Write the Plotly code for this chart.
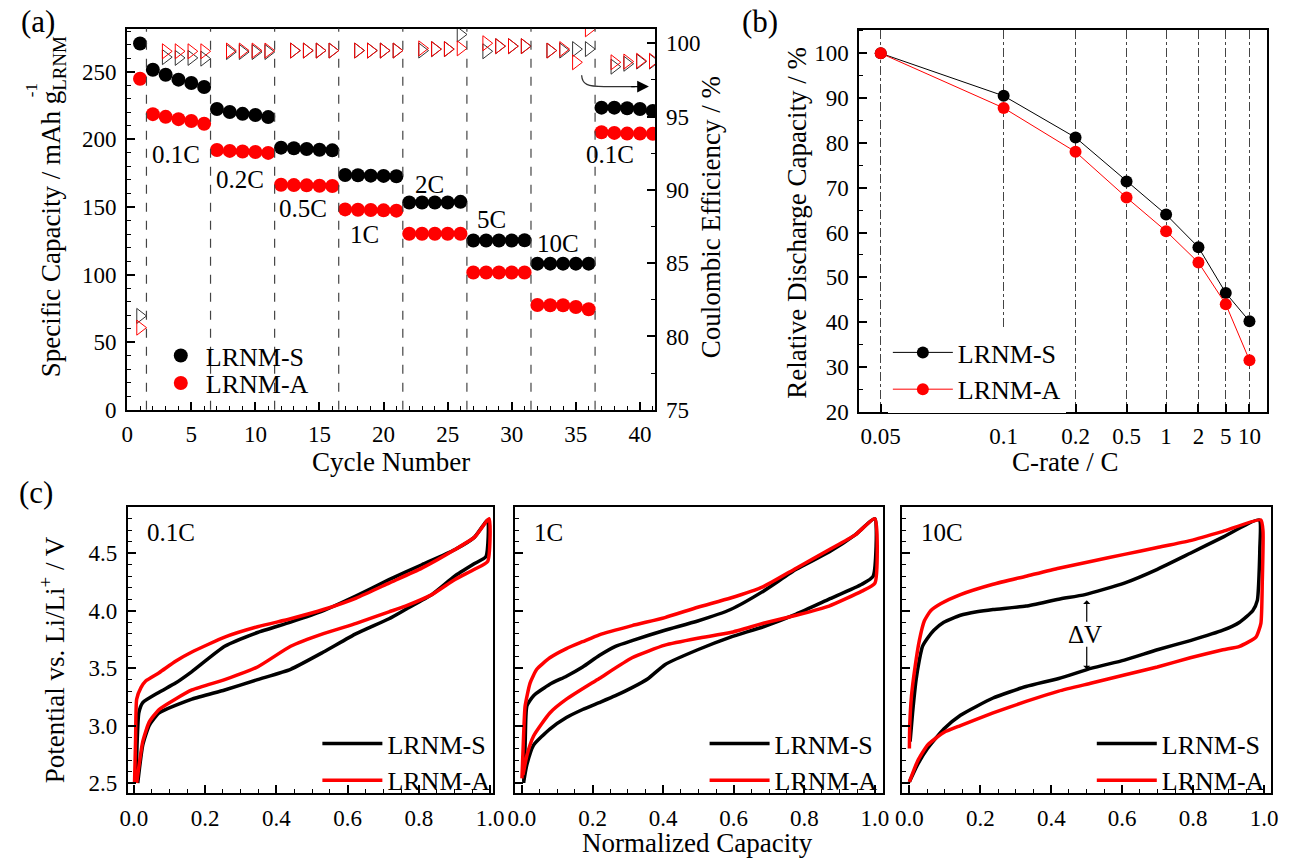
import plotly.graph_objects as go

FONT = "Liberation Serif, Times New Roman, serif"
W, H = 1290, 866
RED = "#ff0000"
BLK = "#000000"

# ---------------- (a) rate capability ----------------
cycles = list(range(1, 42))
cap_S = [271, 251.5, 247.8, 244.2, 241.7, 238.8,
         222.5, 220.3, 218.9, 218.0, 216.5,
         193.9, 193.4, 192.9, 192.4, 191.9,
         173.7, 173.5, 173.2, 173.0, 172.7,
         153.3, 153.3, 153.3, 153.3, 153.8,
         125.2, 125.2, 125.2, 125.2, 125.4,
         108.1, 108.1, 108.1, 108.1, 108.1,
         223.5, 223.5, 223.0, 222.5, 221.0]
cap_A = [244.9, 218.7, 216.7, 215.0, 213.6, 211.6,
         192.2, 191.5, 191.0, 190.7, 190.0,
         166.4, 166.2, 166.0, 165.7, 165.5,
         148.2, 148.0, 147.8, 147.5, 147.3,
         130.2, 130.2, 130.2, 130.2, 130.2,
         101.5, 101.5, 101.5, 101.5, 101.5,
         77.5, 77.3, 77.3, 76.0, 74.4,
         205.3, 204.8, 204.3, 204.3, 204.1]
ce_cycles = [1, 3, 4, 5, 6, 8, 9, 10, 11, 13, 14, 15, 16, 18, 19, 20, 21,
             23, 24, 25, 26, 28, 29, 30, 31, 33, 34, 35, 36, 38, 39, 40, 41]
ce_S = [81.4, 99.05, 99.0, 99.0, 98.95, 99.4, 99.4, 99.4, 99.4,
        99.5, 99.5, 99.5, 99.5, 99.5, 99.5, 99.5, 99.5,
        99.5, 99.6, 99.6, 100.6, 99.45, 99.8, 99.8, 99.8,
        99.5, 99.5, 99.6, 99.6, 98.4, 98.6, 98.75, 98.75]
ce_A = [80.6, 99.45, 99.45, 99.45, 99.45, 99.5, 99.5, 99.5, 99.5,
        99.5, 99.5, 99.5, 99.5, 99.5, 99.5, 99.5, 99.5,
        99.65, 99.6, 99.6, 99.65, 100.0, 99.8, 99.8, 99.8,
        99.5, 99.6, 98.7, 100.95, 98.7, 98.75, 98.8, 98.8]
rate_boundaries = [1.5, 6.5, 11.5, 16.5, 21.5, 26.5, 31.5, 36.5]
rate_labels = ["0.1C", "0.2C", "0.5C", "1C", "2C", "5C", "10C", "0.1C"]
rate_label_pos = [(3.8, 189), (8.8, 170), (13.7, 149), (18.5, 130),
                  (23.6, 167), (28.4, 141), (33.6, 123), (37.7, 189)]

# ---------------- (b) relative discharge capacity ----------------
c_rates = ["0.05", "0.1", "0.2", "0.5", "1", "2", "5", "10"]
rate_index = [1, 2, 3, 4, 5, 6, 7, 8]   # Origin axis: log scale on step index
rel_S = [100, 90.5, 81.2, 71.4, 64.0, 56.7, 46.5, 40.2]
rel_A = [100, 87.8, 78.0, 67.8, 60.3, 53.3, 44.0, 31.5]

# ---------------- (c) voltage profiles (charge then discharge) ----------------
q01_S = [0.006, 0.009, 0.014, 0.025, 0.071, 0.117, 0.163, 0.255, 0.347, 0.44, 0.532, 0.624, 0.716, 0.808, 0.9, 0.956, 0.993,
         0.988, 0.956, 0.9, 0.836, 0.762, 0.716, 0.624, 0.532, 0.44, 0.347, 0.255, 0.163, 0.071, 0.043, 0.025, 0.011]
v01_S = [2.50, 2.83, 3.11, 3.20, 3.29, 3.37, 3.47, 3.69, 3.81, 3.90, 4.00, 4.13, 4.27, 4.40, 4.53, 4.64, 4.79,
         4.47, 4.41, 4.30, 4.14, 4.01, 3.93, 3.80, 3.64, 3.49, 3.40, 3.31, 3.23, 3.11, 3.00, 2.83, 2.50]
q01_A = [0.002, 0.005, 0.008, 0.020, 0.034, 0.071, 0.117, 0.163, 0.255, 0.347, 0.44, 0.532, 0.624, 0.716, 0.808, 0.9, 0.956, 0.997,
         0.993, 0.956, 0.9, 0.836, 0.762, 0.716, 0.624, 0.532, 0.44, 0.347, 0.255, 0.163, 0.071, 0.043, 0.025, 0.008]
v01_A = [2.50, 2.89, 3.23, 3.33, 3.39, 3.46, 3.56, 3.64, 3.77, 3.86, 3.93, 4.01, 4.11, 4.24, 4.37, 4.53, 4.64, 4.80,
         4.43, 4.36, 4.27, 4.14, 4.04, 3.99, 3.89, 3.80, 3.69, 3.51, 3.40, 3.31, 3.14, 3.03, 2.86, 2.50]

q1_S = [0.005, 0.009, 0.014, 0.033, 0.079, 0.126, 0.172, 0.219, 0.265, 0.312, 0.405, 0.498, 0.591, 0.684, 0.777, 0.870, 0.944, 1.0,
        0.995, 0.963, 0.870, 0.777, 0.684, 0.591, 0.498, 0.405, 0.358, 0.312, 0.265, 0.219, 0.172, 0.126, 0.079, 0.033, 0.014, 0.005]
v1_S = [2.50, 2.83, 3.17, 3.26, 3.36, 3.43, 3.51, 3.61, 3.69, 3.74, 3.83, 3.91, 4.01, 4.17, 4.36, 4.51, 4.66, 4.80,
        4.30, 4.23, 4.10, 3.97, 3.86, 3.77, 3.66, 3.53, 3.41, 3.33, 3.26, 3.20, 3.14, 3.07, 2.97, 2.83, 2.66, 2.51]
q1_A = [0.0, 0.005, 0.009, 0.023, 0.042, 0.079, 0.126, 0.172, 0.219, 0.312, 0.405, 0.498, 0.591, 0.684, 0.777, 0.870, 0.944, 1.0,
        1.0, 0.963, 0.870, 0.777, 0.684, 0.591, 0.498, 0.405, 0.312, 0.219, 0.126, 0.079, 0.033, 0.014, 0.003]
v1_A = [2.54, 2.94, 3.17, 3.37, 3.49, 3.59, 3.67, 3.73, 3.79, 3.87, 3.94, 4.03, 4.11, 4.21, 4.37, 4.53, 4.66, 4.80,
        4.24, 4.17, 4.04, 3.96, 3.89, 3.81, 3.76, 3.70, 3.59, 3.41, 3.23, 3.11, 2.91, 2.74, 2.57]

q10_S = [0.002, 0.009, 0.019, 0.028, 0.037, 0.051, 0.069, 0.097, 0.144, 0.19, 0.236, 0.329, 0.421, 0.495, 0.606, 0.699, 0.792, 0.884, 0.986,
         0.988, 0.981, 0.968, 0.931, 0.884, 0.792, 0.699, 0.606, 0.514, 0.421, 0.329, 0.236, 0.144, 0.097, 0.051, 0.023, 0.0]
v10_S = [2.86, 3.11, 3.40, 3.57, 3.69, 3.76, 3.83, 3.90, 3.96, 3.99, 4.01, 4.04, 4.10, 4.14, 4.24, 4.36, 4.50, 4.64, 4.79,
         4.54, 4.09, 4.00, 3.90, 3.83, 3.74, 3.66, 3.57, 3.50, 3.41, 3.34, 3.24, 3.09, 2.97, 2.80, 2.66, 2.51]
q10_A = [0.0, 0.001, 0.006, 0.016, 0.028, 0.042, 0.06, 0.088, 0.144, 0.236, 0.329, 0.421, 0.514, 0.606, 0.699, 0.792, 0.884, 0.991,
         0.997, 0.995, 0.991, 0.977, 0.931, 0.884, 0.792, 0.699, 0.606, 0.514, 0.421, 0.329, 0.236, 0.144, 0.097, 0.051, 0.023, 0.0]
v10_A = [2.80, 3.00, 3.26, 3.51, 3.74, 3.91, 4.00, 4.06, 4.14, 4.23, 4.30, 4.37, 4.43, 4.49, 4.55, 4.61, 4.69, 4.79,
         4.69, 4.26, 3.89, 3.77, 3.69, 3.66, 3.59, 3.51, 3.44, 3.37, 3.30, 3.21, 3.11, 3.00, 2.94, 2.83, 2.69, 2.51]

profiles = [("0.1C", q01_S, v01_S, q01_A, v01_A),
            ("1C", q1_S, v1_S, q1_A, v1_A),
            ("10C", q10_S, v10_S, q10_A, v10_A)]


def px(x):
    return x / W


def py(y):
    return 1 - y / H


fig = go.Figure()

# (a) CE triangles
fig.add_trace(go.Scatter(x=ce_cycles, y=ce_S, mode="markers", xaxis="x", yaxis="y2", showlegend=False,
                         marker=dict(symbol="triangle-right-open", size=13, color="#333333", line=dict(width=1))))
fig.add_trace(go.Scatter(x=ce_cycles, y=ce_A, mode="markers", xaxis="x", yaxis="y2", showlegend=False,
                         marker=dict(symbol="triangle-right-open", size=13, color=RED, line=dict(width=1))))
# (a) capacities
fig.add_trace(go.Scatter(x=cycles, y=cap_S, mode="markers", name="LRNM-S", xaxis="x", yaxis="y", legend="legend",
                         marker=dict(symbol="circle", size=14, color=BLK)))
fig.add_trace(go.Scatter(x=cycles, y=cap_A, mode="markers", name="LRNM-A", xaxis="x", yaxis="y", legend="legend6",
                         marker=dict(symbol="circle", size=14, color=RED)))

# (b)
fig.add_trace(go.Scatter(x=rate_index, y=rel_S, mode="lines+markers", name="LRNM-S", xaxis="x2", yaxis="y3",
                         legend="legend2", line=dict(color=BLK, width=1), marker=dict(size=12, color=BLK)))
fig.add_trace(go.Scatter(x=rate_index, y=rel_A, mode="lines+markers", name="LRNM-A", xaxis="x2", yaxis="y3",
                         legend="legend2", line=dict(color=RED, width=1), marker=dict(size=12, color=RED)))

# (c)
for i, (lab, qs, vs, qa, va) in enumerate(profiles):
    xa = "x%d" % (i + 3)
    ya = "y%d" % (i + 4)
    lg = "legend%d" % (i + 3)
    fig.add_trace(go.Scatter(x=qs, y=vs, mode="lines", name="LRNM-S", xaxis=xa, yaxis=ya, legend=lg,
                             line=dict(color=BLK, width=3.5, shape="spline", smoothing=0.5)))
    fig.add_trace(go.Scatter(x=qa, y=va, mode="lines", name="LRNM-A", xaxis=xa, yaxis=ya, legend=lg,
                             line=dict(color=RED, width=3.5, shape="spline", smoothing=0.5)))

TICK = 23


def axis(domain, rng, anchor, dtick=None, minor=None, **kw):
    d = dict(domain=domain, range=rng, anchor=anchor, showline=True, linecolor="black", linewidth=2,
             ticks="inside", ticklen=8, tickwidth=1.5, tickcolor="black", mirror=True,
             showgrid=False, zeroline=False, tickfont=dict(family=FONT, size=TICK, color="black"))
    if dtick is not None:
        d["dtick"] = dtick
    if minor is not None:
        d["minor"] = dict(ticks="inside", ticklen=4, tickwidth=1.2, tickcolor="black", dtick=minor, showgrid=False)
    d.update(kw)
    return d


layout = dict(
    width=W, height=H, margin=dict(l=0, r=0, t=0, b=0),
    paper_bgcolor="white", plot_bgcolor="white",
    font=dict(family=FONT, size=TICK, color="black"),
)
# (a)
layout["xaxis"] = axis([px(121), px(657)], [0, 41.2], "y", dtick=5, minor=1, tick0=0, ticklabelstandoff=3)
layout["yaxis"] = axis([py(416), py(29)], [0, 282], "x", dtick=50, minor=10, mirror=False, ticklabelstandoff=4)
layout["yaxis2"] = axis([py(416), py(29)], [75, 101], "x", dtick=5, minor=2.5, overlaying="y", side="right",
                        mirror=False, ticklabelstandoff=4)
# (b)
layout["xaxis2"] = axis([px(864), px(1278)], [-0.0526, 0.9465], "y3", type="log",
                        tickmode="array", tickvals=rate_index, ticktext=c_rates,
                        showgrid=True, gridcolor="#444444", gridwidth=1, griddash="dashdot", ticklabelstandoff=3)
layout["yaxis3"] = axis([py(418), py(30)], [20, 105.3], "x2", dtick=10, minor=5, ticklabelstandoff=4)
# (c)
c_dom = [(121.7, 492.7, -0.0166, 1.009), (515, 888.3, -0.0185, 1.0235), (907.3, 1281.7, -0.021, 1.019)]
for i, (l, r, x0, x1) in enumerate(c_dom):
    layout["xaxis%d" % (i + 3)] = axis([px(l), px(r)], [x0, x1], "y%d" % (i + 4), dtick=0.2, minor=0.05,
                                       tick0=0, tickformat=".1f", ticklabelstandoff=3)
    layout["yaxis%d" % (i + 4)] = axis([py(805), py(515)], [2.414, 4.9], "x%d" % (i + 3), dtick=0.5, minor=0.1,
                                       tick0=0, tickformat=".1f", showticklabels=(i == 0), ticklabelstandoff=4)

leg_font = dict(family=FONT, size=26, color="black")
layout["legend"] = dict(x=px(150), y=py(361), xanchor="left", yanchor="middle", font=leg_font,
                        bgcolor="rgba(0,0,0,0)", itemwidth=40)
layout["legend6"] = dict(x=px(150), y=py(389), xanchor="left", yanchor="middle", font=leg_font,
                         bgcolor="rgba(0,0,0,0)", itemwidth=40)
layout["legend2"] = dict(x=px(893), y=py(334), xanchor="left", yanchor="top", font=leg_font,
                         bgcolor="white", itemwidth=60)
for i, lx in enumerate([314, 707, 1100]):
    layout["legend%d" % (i + 3)] = dict(x=px(lx), y=py(731), xanchor="left", yanchor="top", font=leg_font,
                                        bgcolor="rgba(0,0,0,0)", itemwidth=60)

# shapes
shapes = []
for b in rate_boundaries:
    shapes.append(dict(type="line", xref="x", yref="y domain", x0=b, x1=b, y0=0, y1=1,
                       line=dict(color="#444444", width=1.2, dash="dash")))
shapes.append(dict(type="path", xref="x", yref="y",
                   path="M 35.45 247.5 C 35.5 240.5, 35.9 239.1, 37.2 239.1 L 39.6 239.1",
                   line=dict(color="#333333", width=1.3)))
layout["shapes"] = shapes

ann = []
for t, (xx, yy) in zip(rate_labels, rate_label_pos):
    ann.append(dict(text=t, x=xx, y=yy, xref="x", yref="y", showarrow=False,
                    font=dict(family=FONT, size=25, color="black")))
ann.append(dict(x=40.7, y=239.1, ax=39.2, ay=239.1, xref="x", yref="y", axref="x", ayref="y",
                showarrow=True, arrowhead=2, arrowsize=1.8, arrowwidth=1.3, arrowcolor="black", text=""))
# ΔV
ann.append(dict(text="ΔV", x=0.494, y=3.79, xref="x5", yref="y6", showarrow=False,
                font=dict(family=FONT, size=25, color="black")))
ann.append(dict(x=0.5, y=4.09, ax=0.5, ay=3.89, xref="x5", yref="y6", axref="x5", ayref="y6",
                showarrow=True, arrowhead=1, arrowsize=1, arrowwidth=1.2, arrowcolor="black", text=""))
ann.append(dict(x=0.5, y=3.49, ax=0.5, ay=3.70, xref="x5", yref="y6", axref="x5", ayref="y6",
                showarrow=True, arrowhead=1, arrowsize=1, arrowwidth=1.2, arrowcolor="black", text=""))


def paper_text(t, x, y, size=27, angle=0, xanchor="center"):
    return dict(text=t, x=px(x), y=py(y), xref="paper", yref="paper", showarrow=False, textangle=angle,
                xanchor=xanchor, yanchor="middle", font=dict(family=FONT, size=size, color="black"))


# profile rate labels
for (lab, *_rest), lx in zip(profiles, [139, 532, 925]):
    ann.append(paper_text(lab, lx, 541, 25, 0, "left"))

ann += [
    paper_text("(a)", 30, 22, 31), paper_text("(b)", 763, 22, 31), paper_text("(c)", 28, 500, 31),
    paper_text("Cycle Number", 389, 469),
    paper_text("C-rate / C", 1073, 469),
    paper_text("Normalized Capacity", 700, 856),
    paper_text("Specific Capacity / mAh g<sub>LRNM</sub>", 46, 210, 27, -90),
    paper_text("-1", 24, 92, 17, -90),
    paper_text("Coulombic Efficiency / %", 713, 220, 27, -90),
    paper_text("Relative Discharge Capacity / %", 800, 226, 27, -90),
    paper_text("Potential vs. Li/Li<sup>+</sup> / V", 45, 670, 27, -90),
]
layout["annotations"] = ann

fig.update_layout(**layout)
fig.write_html("out.html")
